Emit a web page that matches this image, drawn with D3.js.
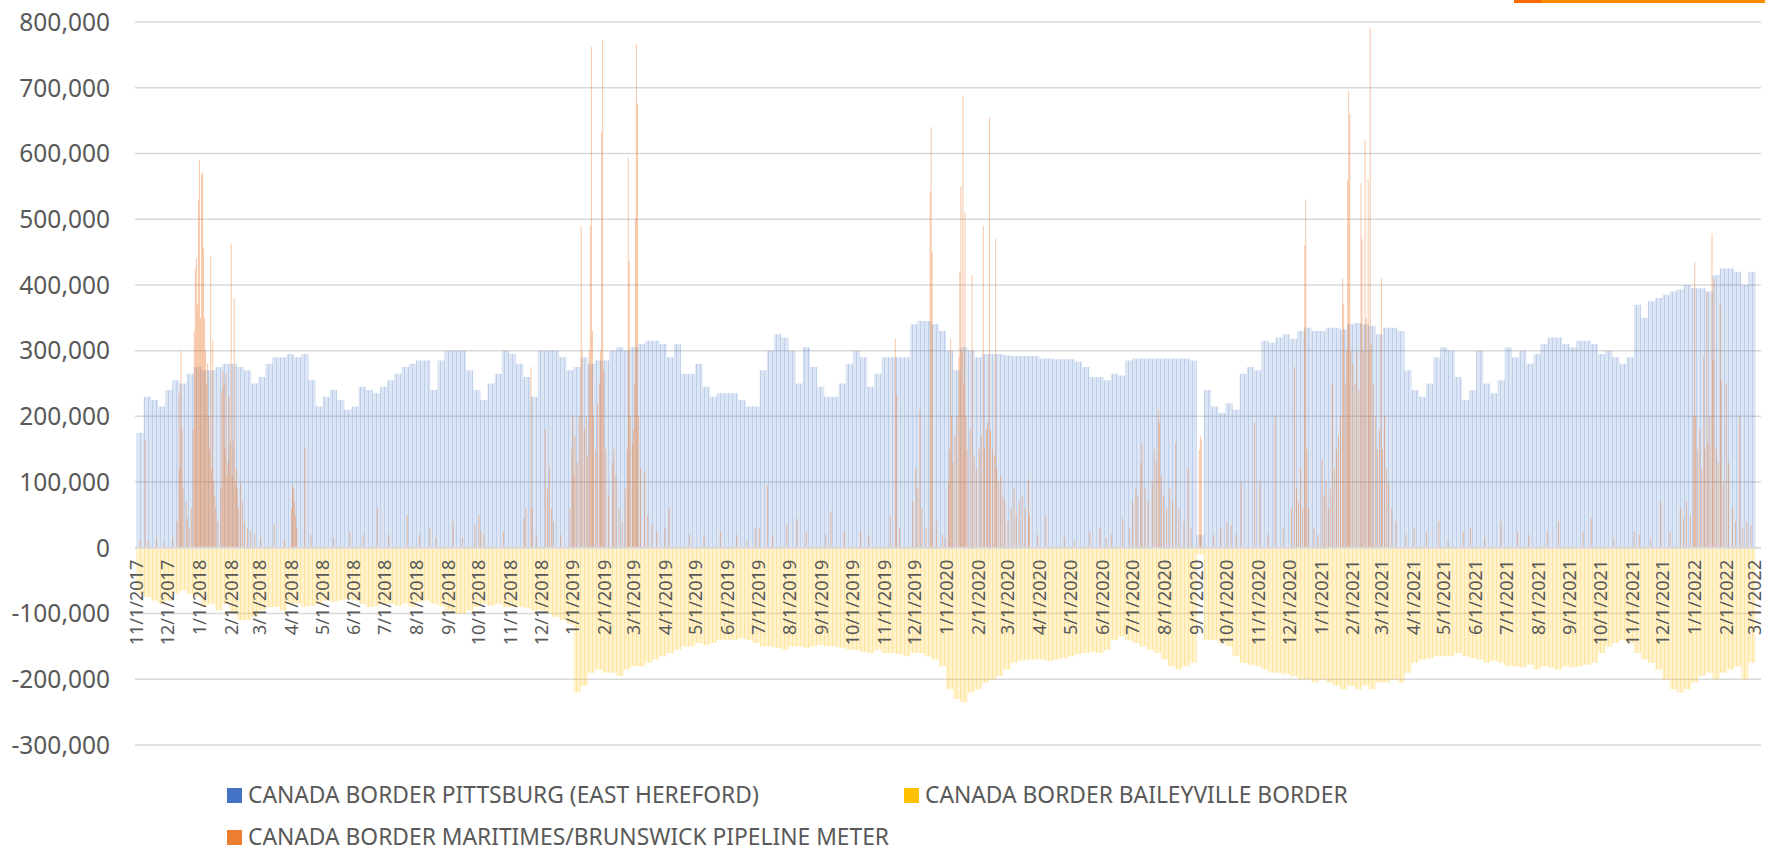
<!DOCTYPE html>
<html>
<head>
<meta charset="utf-8">
<script src="https://cdn.jsdelivr.net/npm/d3@7/dist/d3.min.js"></script>
<style>
  html, body { margin: 0; padding: 0; background: #fff; }
  svg { display: block; font-family: "Noto Sans", "Open Sans", sans-serif; }
</style>
</head>
<body>
<svg id="chart" width="1765" height="851"></svg>
<script>
// Daily flows Nov 2017 - Mar 2022.
// Pittsburg / Baileyville are kept as weekly levels (weeks start 11/1/2017),
// Maritimes as individual daily spikes. All values in thousands.
const FIRST_DAY = '2017-11-01';
const LAST_DAY = '2022-03-01';

const SERIES = [
  'CANADA BORDER PITTSBURG (EAST HEREFORD)',
  'CANADA BORDER BAILEYVILLE BORDER',
  'CANADA BORDER MARITIMES/BRUNSWICK PIPELINE METER',
];
const COLORS = ['#4472C4', '#FFC000', '#ED7D31'];

const yTicks = [-300, -200, -100, 0, 100, 200, 300, 400, 500, 600, 700, 800];

// one value per week, one line per month of the week's first day
const pittsburgWeekly = [
  175, 230, 225, 215, 240,      // 2017-11
  255, 250, 265, 275,           // 2017-12
  270, 270, 275, 280, 280,      // 2018-01
  275, 270, 250, 260,           // 2018-02
  280, 290, 290, 295,           // 2018-03
  290, 295, 255, 215,           // 2018-04
  230, 240, 225, 210, 215,      // 2018-05
  245, 240, 235, 245,           // 2018-06
  255, 265, 275, 280,           // 2018-07
  285, 285, 240, 285, 300,      // 2018-08
  300, 300, 270, 240,           // 2018-09
  225, 250, 265, 300, 295,      // 2018-10
  280, 260, 230, 300,           // 2018-11
  300, 300, 290, 270,           // 2018-12
  275, 290, 280, 285, 285,      // 2019-01
  300, 305, 300, 305,           // 2019-02
  310, 315, 315, 310,           // 2019-03
  290, 310, 265, 265,           // 2019-04
  280, 245, 230, 235, 235,      // 2019-05
  235, 225, 215, 215,           // 2019-06
  270, 300, 325, 320, 300,      // 2019-07
  250, 305, 275, 245,           // 2019-08
  230, 230, 250, 280,           // 2019-09
  300, 290, 245, 265, 290,      // 2019-10
  290, 290, 290, 340,           // 2019-11
  345, 345, 340, 330,           // 2019-12
  300, 270, 305, 300, 290,      // 2020-01
  295, 295, 295, 293,           // 2020-02
  292, 292, 292, 292,           // 2020-03
  288, 288, 287, 287, 287,      // 2020-04
  283, 275, 260, 260,           // 2020-05
  255, 265, 262, 285,           // 2020-06
  288, 288, 288, 288, 288,      // 2020-07
  288, 288, 288, 285,           // 2020-08
  20, 240, 215, 205, 220,       // 2020-09
  210, 265, 275, 270,           // 2020-10
  315, 312, 320, 325,           // 2020-11
  318, 330, 335, 330, 330,      // 2020-12
  335, 335, 332, 340,           // 2021-01
  342, 340, 338, 325,           // 2021-02
  335, 335, 330, 270, 240,      // 2021-03
  230, 250, 290, 305,           // 2021-04
  300, 260, 225, 240,           // 2021-05
  300, 250, 235, 255, 305,      // 2021-06
  290, 300, 280, 295,           // 2021-07
  310, 320, 320, 310,           // 2021-08
  305, 315, 315, 310, 295,      // 2021-09
  300, 290, 280, 290,           // 2021-10
  370, 350, 375, 380,           // 2021-11
  385, 390, 393, 400, 395,      // 2021-12
  395, 390, 415, 425,           // 2022-01
  425, 420, 400, 420,           // 2022-02
];

const baileyvilleWeekly = [
  -70, -75, -80, -85, -80,      // 2017-11
  -70, -65, -70, -75,           // 2017-12
  -90, -85, -95, -85, -100,     // 2018-01
  -110, -110, -105, -95,        // 2018-02
  -90, -90, -95, -85,           // 2018-03
  -85, -90, -88, -85,           // 2018-04
  -80, -82, -80, -78, -80,      // 2018-05
  -85, -90, -88, -85,           // 2018-06
  -85, -88, -85, -90,           // 2018-07
  -82, -80, -85, -88, -95,      // 2018-08
  -100, -100, -95, -90,         // 2018-09
  -85, -88, -85, -90, -90,      // 2018-10
  -90, -92, -95, -95,           // 2018-11
  -100, -105, -110, -115,       // 2018-12
  -220, -210, -190, -185, -190, // 2019-01
  -190, -195, -185, -180,       // 2019-02
  -180, -175, -170, -165,       // 2019-03
  -160, -155, -150, -150,       // 2019-04
  -145, -148, -145, -140, -140, // 2019-05
  -140, -138, -140, -145,       // 2019-06
  -150, -150, -152, -155, -150, // 2019-07
  -150, -152, -150, -148,       // 2019-08
  -150, -150, -152, -155,       // 2019-09
  -155, -158, -160, -155, -160, // 2019-10
  -160, -162, -165, -160,       // 2019-11
  -160, -165, -170, -180,       // 2019-12
  -215, -230, -235, -220, -215, // 2020-01
  -205, -200, -195, -185,       // 2020-02
  -175, -172, -170, -170,       // 2020-03
  -170, -172, -170, -168, -165, // 2020-04
  -162, -160, -158, -160,       // 2020-05
  -155, -140, -135, -140,       // 2020-06
  -145, -150, -155, -160, -170, // 2020-07
  -180, -185, -180, -175,       // 2020-08
  -10, -140, -140, -145, -150,  // 2020-09
  -165, -175, -178, -180,       // 2020-10
  -185, -190, -190, -192,       // 2020-11
  -195, -200, -200, -205, -200, // 2020-12
  -205, -210, -215, -210,       // 2021-01
  -215, -210, -215, -205,       // 2021-02
  -205, -200, -205, -190, -175, // 2021-03
  -170, -168, -165, -165,       // 2021-04
  -165, -160, -165, -168,       // 2021-05
  -170, -175, -172, -175, -180, // 2021-06
  -180, -182, -178, -185,       // 2021-07
  -180, -182, -185, -180,       // 2021-08
  -182, -180, -178, -175, -160, // 2021-09
  -150, -145, -140, -145,       // 2021-10
  -160, -170, -175, -185,       // 2021-11
  -200, -215, -220, -215, -205, // 2021-12
  -195, -190, -200, -190,       // 2022-01
  -185, -180, -200, -175,       // 2022-02
];

// Maritimes: daily spikes, [day, thousands]
const maritimes2017 = [
  ['2017-11-04', 12], ['2017-11-09', 165], ['2017-11-12', 10], ['2017-11-20', 15], ['2017-11-27', 8],
  ['2017-12-06', 15], ['2017-12-10', 40], ['2017-12-12', 235], ['2017-12-13', 120], ['2017-12-14', 300],
  ['2017-12-15', 180], ['2017-12-16', 90], ['2017-12-19', 70], ['2017-12-20', 45], ['2017-12-22', 30],
  ['2017-12-24', 60], ['2017-12-26', 180], ['2017-12-27', 330], ['2017-12-28', 425], ['2017-12-29', 440],
  ['2017-12-30', 370], ['2017-12-31', 530], ['2018-01-01', 590], ['2018-01-02', 350], ['2018-01-03', 567],
  ['2018-01-04', 571], ['2018-01-05', 455], ['2018-01-06', 350], ['2018-01-07', 300], ['2018-01-08', 250],
  ['2018-01-09', 280], ['2018-01-10', 200], ['2018-01-11', 150], ['2018-01-12', 443], ['2018-01-13', 120],
  ['2018-01-14', 315], ['2018-01-15', 100], ['2018-01-16', 80], ['2018-01-17', 60], ['2018-01-19', 40],
  ['2018-01-22', 90], ['2018-01-23', 240], ['2018-01-24', 270], ['2018-01-25', 250], ['2018-01-26', 150],
  ['2018-01-27', 265], ['2018-01-28', 110], ['2018-01-29', 130], ['2018-01-30', 230], ['2018-01-31', 160],
  ['2018-02-01', 463], ['2018-02-02', 110], ['2018-02-03', 163], ['2018-02-04', 380], ['2018-02-05', 100],
  ['2018-02-06', 120], ['2018-02-07', 90], ['2018-02-08', 60], ['2018-02-10', 100], ['2018-02-12', 70],
  ['2018-02-14', 40], ['2018-02-17', 30], ['2018-02-20', 25], ['2018-02-24', 20], ['2018-03-02', 15],
  ['2018-03-15', 35], ['2018-03-25', 10], ['2018-04-01', 60], ['2018-04-02', 95], ['2018-04-03', 90],
  ['2018-04-04', 70], ['2018-04-05', 50], ['2018-04-06', 30], ['2018-04-14', 153], ['2018-04-20', 20],
  ['2018-05-12', 15], ['2018-05-28', 25], ['2018-06-10', 20], ['2018-06-24', 60], ['2018-07-05', 20],
  ['2018-07-23', 50], ['2018-08-04', 20], ['2018-08-14', 30], ['2018-08-20', 15], ['2018-09-06', 40],
  ['2018-09-15', 15], ['2018-09-27', 35],
];

const maritimes2018 = [
  ['2018-10-01', 50], ['2018-10-03', 25], ['2018-10-06', 20], ['2018-10-25', 25], ['2018-11-14', 45],
  ['2018-11-16', 60], ['2018-11-21', 275], ['2018-11-22', 60], ['2018-11-26', 20], ['2018-12-05', 180],
  ['2018-12-07', 90], ['2018-12-09', 125], ['2018-12-11', 60], ['2018-12-13', 40], ['2018-12-20', 20],
  ['2018-12-29', 60], ['2018-12-31', 150], ['2019-01-01', 200], ['2019-01-02', 110], ['2019-01-03', 170],
  ['2019-01-05', 130], ['2019-01-07', 200], ['2019-01-09', 490], ['2019-01-10', 300], ['2019-01-12', 180],
  ['2019-01-14', 200], ['2019-01-15', 140], ['2019-01-17', 300], ['2019-01-18', 490], ['2019-01-19', 762],
  ['2019-01-20', 330], ['2019-01-21', 200], ['2019-01-23', 150], ['2019-01-25', 220], ['2019-01-27', 250],
  ['2019-01-28', 300], ['2019-01-29', 632], ['2019-01-30', 772], ['2019-01-31', 270], ['2019-02-02', 150],
  ['2019-02-05', 80], ['2019-02-09', 130], ['2019-02-10', 150], ['2019-02-12', 110], ['2019-02-15', 60],
  ['2019-02-18', 40], ['2019-02-21', 90], ['2019-02-23', 150], ['2019-02-24', 594], ['2019-02-25', 435],
  ['2019-02-26', 200], ['2019-02-28', 160], ['2019-03-01', 180], ['2019-03-02', 250], ['2019-03-03', 501],
  ['2019-03-04', 766], ['2019-03-05', 676], ['2019-03-06', 200], ['2019-03-08', 120], ['2019-03-12', 115],
  ['2019-03-15', 50], ['2019-03-19', 35], ['2019-03-24', 25], ['2019-04-01', 30], ['2019-04-05', 60],
  ['2019-04-25', 20], ['2019-05-09', 20], ['2019-05-25', 25], ['2019-06-10', 20], ['2019-06-20', 10],
  ['2019-06-28', 30], ['2019-07-02', 30], ['2019-07-10', 95], ['2019-07-15', 20], ['2019-07-29', 35],
  ['2019-08-08', 45], ['2019-08-17', 25], ['2019-09-05', 20], ['2019-09-10', 55], ['2019-09-23', 25],
];

const maritimes2019 = [
  ['2019-10-09', 25], ['2019-10-17', 20], ['2019-11-07', 50], ['2019-11-12', 318], ['2019-11-13', 233],
  ['2019-11-16', 30], ['2019-11-29', 70], ['2019-12-02', 120], ['2019-12-04', 90], ['2019-12-06', 210],
  ['2019-12-08', 60], ['2019-12-12', 30], ['2019-12-16', 542], ['2019-12-17', 640], ['2019-12-18', 450],
  ['2019-12-22', 40], ['2019-12-28', 20], ['2019-12-31', 15], ['2020-01-03', 100], ['2020-01-04', 150],
  ['2020-01-05', 318], ['2020-01-06', 200], ['2020-01-07', 130], ['2020-01-09', 170], ['2020-01-11', 200],
  ['2020-01-13', 290], ['2020-01-14', 420], ['2020-01-15', 550], ['2020-01-16', 300], ['2020-01-17', 687],
  ['2020-01-18', 250], ['2020-01-19', 510], ['2020-01-20', 200], ['2020-01-21', 150], ['2020-01-24', 180],
  ['2020-01-26', 415], ['2020-01-28', 140], ['2020-01-30', 120], ['2020-02-02', 150], ['2020-02-04', 170],
  ['2020-02-06', 490], ['2020-02-07', 150], ['2020-02-09', 180], ['2020-02-10', 190], ['2020-02-12', 655],
  ['2020-02-13', 180], ['2020-02-15', 150], ['2020-02-17', 140], ['2020-02-18', 470], ['2020-02-19', 120],
  ['2020-02-21', 100], ['2020-02-23', 110], ['2020-02-25', 80], ['2020-02-27', 70], ['2020-03-01', 40],
  ['2020-03-04', 60], ['2020-03-07', 90], ['2020-03-09', 50], ['2020-03-12', 70], ['2020-03-15', 80],
  ['2020-03-18', 60], ['2020-03-21', 105], ['2020-03-22', 50], ['2020-03-30', 20], ['2020-04-07', 50],
  ['2020-04-25', 15], ['2020-05-05', 10], ['2020-05-20', 25], ['2020-05-30', 30], ['2020-06-05', 15],
];

const maritimes2020 = [
  ['2020-06-10', 20], ['2020-06-21', 45], ['2020-06-28', 30], ['2020-07-01', 70], ['2020-07-04', 90],
  ['2020-07-06', 80], ['2020-07-09', 130], ['2020-07-10', 160], ['2020-07-13', 90], ['2020-07-16', 70],
  ['2020-07-20', 100], ['2020-07-22', 150], ['2020-07-24', 130], ['2020-07-26', 210], ['2020-07-27', 190],
  ['2020-07-29', 110], ['2020-07-31', 80], ['2020-08-03', 60], ['2020-08-06', 90], ['2020-08-09', 70],
  ['2020-08-12', 160], ['2020-08-15', 60], ['2020-08-20', 40], ['2020-08-24', 120], ['2020-08-27', 30],
  ['2020-09-04', 150], ['2020-09-05', 170], ['2020-09-06', 165], ['2020-09-18', 20], ['2020-09-25', 30],
  ['2020-10-01', 40], ['2020-10-05', 35], ['2020-10-10', 20], ['2020-10-15', 100], ['2020-10-28', 190],
  ['2020-11-02', 100], ['2020-11-10', 20], ['2020-11-17', 200], ['2020-11-25', 30], ['2020-12-03', 60],
  ['2020-12-06', 275], ['2020-12-08', 90], ['2020-12-10', 70], ['2020-12-12', 120], ['2020-12-14', 60],
  ['2020-12-16', 460], ['2020-12-17', 530], ['2020-12-18', 150], ['2020-12-20', 60], ['2020-12-25', 30],
  ['2020-12-29', 20], ['2021-01-02', 135], ['2021-01-04', 80], ['2021-01-06', 100], ['2021-01-08', 60],
  ['2021-01-10', 90], ['2021-01-12', 250], ['2021-01-14', 120], ['2021-01-16', 150], ['2021-01-18', 170],
  ['2021-01-20', 200], ['2021-01-22', 410], ['2021-01-23', 370], ['2021-01-25', 250], ['2021-01-26', 300],
  ['2021-01-27', 560], ['2021-01-28', 695], ['2021-01-29', 660], ['2021-01-30', 300], ['2021-02-01', 280],
  ['2021-02-03', 250], ['2021-02-05', 300], ['2021-02-07', 240], ['2021-02-09', 555], ['2021-02-10', 470],
  ['2021-02-11', 300], ['2021-02-13', 620], ['2021-02-14', 350], ['2021-02-16', 560], ['2021-02-17', 300],
  ['2021-02-18', 790], ['2021-02-19', 310], ['2021-02-21', 250], ['2021-02-23', 200], ['2021-02-25', 150],
  ['2021-02-27', 180], ['2021-03-01', 410], ['2021-03-02', 150], ['2021-03-04', 200], ['2021-03-06', 120],
  ['2021-03-08', 100], ['2021-03-11', 60], ['2021-03-15', 40], ['2021-03-25', 20], ['2021-04-02', 30],
  ['2021-04-14', 25], ['2021-04-26', 40],
];

const maritimes2021 = [
  ['2021-05-05', 10], ['2021-05-20', 25], ['2021-05-27', 30], ['2021-06-10', 15], ['2021-06-26', 40],
  ['2021-07-12', 25], ['2021-07-23', 20], ['2021-08-10', 25], ['2021-08-21', 40], ['2021-09-14', 25],
  ['2021-09-22', 45], ['2021-10-14', 15], ['2021-11-03', 25], ['2021-11-08', 20], ['2021-11-19', 15],
  ['2021-11-29', 70], ['2021-12-08', 25], ['2021-12-18', 60], ['2021-12-21', 45], ['2021-12-24', 70],
  ['2021-12-28', 50], ['2021-12-31', 200], ['2022-01-01', 435], ['2022-01-02', 200], ['2022-01-04', 150],
  ['2022-01-06', 180], ['2022-01-08', 120], ['2022-01-10', 290], ['2022-01-11', 150], ['2022-01-13', 390],
  ['2022-01-14', 160], ['2022-01-16', 200], ['2022-01-18', 478], ['2022-01-19', 285], ['2022-01-20', 410],
  ['2022-01-22', 150], ['2022-01-24', 130], ['2022-01-26', 370], ['2022-01-27', 255], ['2022-01-29', 100],
  ['2022-02-01', 250], ['2022-02-03', 130], ['2022-02-07', 60], ['2022-02-10', 40], ['2022-02-14', 200],
  ['2022-02-17', 30], ['2022-02-21', 40], ['2022-02-25', 35],
];

// ---------------------------------------------------------------
const parseDay = d3.utcParse('%Y-%m-%d');
const dayStart = parseDay(FIRST_DAY);
const dayEnd = d3.utcDay.offset(parseDay(LAST_DAY), 1);

const W = 1765, H = 851;
const grid = { left: 135, right: 1761 };
const plot = { left: 136.5, right: 1755.5, top: 22, bottom: 745 };

const x = d3.scaleUtc().domain([dayStart, dayEnd]).range([plot.left, plot.right]);
const y = d3.scaleLinear().domain([-300, 800]).range([plot.bottom, plot.top]);
const dayW = x(d3.utcDay.offset(dayStart, 1)) - x(dayStart);

const fmt = d3.formatLocale({ decimal: '.', thousands: ',', grouping: [3], currency: ['$', ''], minus: '-' }).format(',');
const monthFmt = d3.utcFormat('%-m/%-d/%Y');

const svg = d3.select('#chart');
const defs = svg.append('defs');

// thin daily bars render as pale fill with darker stripes
function stripes(id, color, base, line) {
  const p = defs.append('pattern').attr('id', id)
    .attr('patternUnits', 'userSpaceOnUse').attr('width', 4).attr('height', 8);
  p.append('rect').attr('width', 4).attr('height', 8).attr('fill', color).attr('fill-opacity', base);
  p.append('rect').attr('width', 1).attr('height', 8).attr('fill', color).attr('fill-opacity', line);
}
stripes('stripe-blue', COLORS[0], 0.19, 0.2);
stripes('stripe-gold', COLORS[1], 0.2, 0.25);

// gridlines
svg.append('g').selectAll('line').data(yTicks.filter((v) => v !== 0)).join('line')
  .attr('x1', grid.left).attr('x2', grid.right)
  .attr('y1', (v) => y(v)).attr('y2', (v) => y(v))
  .attr('stroke', '#d9d9d9').attr('stroke-width', 1.5);

// y labels
svg.append('g').selectAll('text').data(yTicks).join('text')
  .attr('x', 110).attr('y', (v) => y(v)).attr('dy', '0.36em')
  .attr('text-anchor', 'end').attr('fill', '#595959').attr('font-size', 24.5)
  .text((v) => fmt(v * 1000));

function weeks(values) {
  return values.map((v, i) => ({ t: d3.utcDay.offset(dayStart, 7 * i), v }));
}

// weekly bars as one stepped shape so neighbouring bars leave no seams
function drawWeekly(values, fill) {
  const pts = weeks(values);
  pts.push({ t: dayEnd, v: values[values.length - 1] });
  const area = d3.area().curve(d3.curveStepAfter)
    .x((d) => x(d.t)).y0(y(0)).y1((d) => y(d.v));
  svg.append('path').datum(pts).attr('d', area).attr('fill', fill);
}
drawWeekly(pittsburgWeekly, 'url(#stripe-blue)');
drawWeekly(baileyvilleWeekly, 'url(#stripe-gold)');

const maritimes = [...maritimes2017, ...maritimes2018, ...maritimes2019, ...maritimes2020, ...maritimes2021]
  .map(([d, v]) => ({ t: parseDay(d), v }));
svg.append('g').selectAll('rect').data(maritimes).join('rect')
  .attr('x', (d) => x(d.t))
  .attr('width', dayW)
  .attr('y', (d) => y(d.v))
  .attr('height', (d) => y(0) - y(d.v))
  .attr('fill', COLORS[2]).attr('fill-opacity', 0.42);

// zero axis
svg.append('line')
  .attr('x1', grid.left).attr('x2', grid.right).attr('y1', y(0)).attr('y2', y(0))
  .attr('stroke', '#d9d9d9').attr('stroke-width', 2);

// month labels, rotated, drawn over the bars
const months = d3.utcMonth.range(dayStart, dayEnd);
svg.append('g').selectAll('text').data(months).join('text')
  .attr('transform', (d) => `translate(${x(d) + dayW / 2},${y(0) + 12}) rotate(-90)`)
  .attr('dy', '0.36em').attr('text-anchor', 'end')
  .attr('fill', '#595959').attr('font-size', 18)
  .text((d) => monthFmt(d));

// legend
const legendPos = [[227, 788], [904, 788], [227, 830]];
const legend = svg.append('g').selectAll('g').data(SERIES).join('g')
  .attr('transform', (d, i) => `translate(${legendPos[i][0]},${legendPos[i][1]})`);
legend.append('rect').attr('width', 15).attr('height', 15).attr('fill', (d, i) => COLORS[i]);
legend.append('text').attr('x', 21).attr('y', 15)
  .attr('fill', '#595959').attr('font-size', 22.8)
  .text((d) => d);

// orange strip at the top right edge of the screenshot
svg.append('rect').attr('x', 1514).attr('y', 0).attr('width', 28).attr('height', 3).attr('fill', '#FF6A00');
svg.append('rect').attr('x', 1542).attr('y', 0).attr('width', W - 1542).attr('height', 3).attr('fill', '#FF8C00');
</script>
</body>
</html>
